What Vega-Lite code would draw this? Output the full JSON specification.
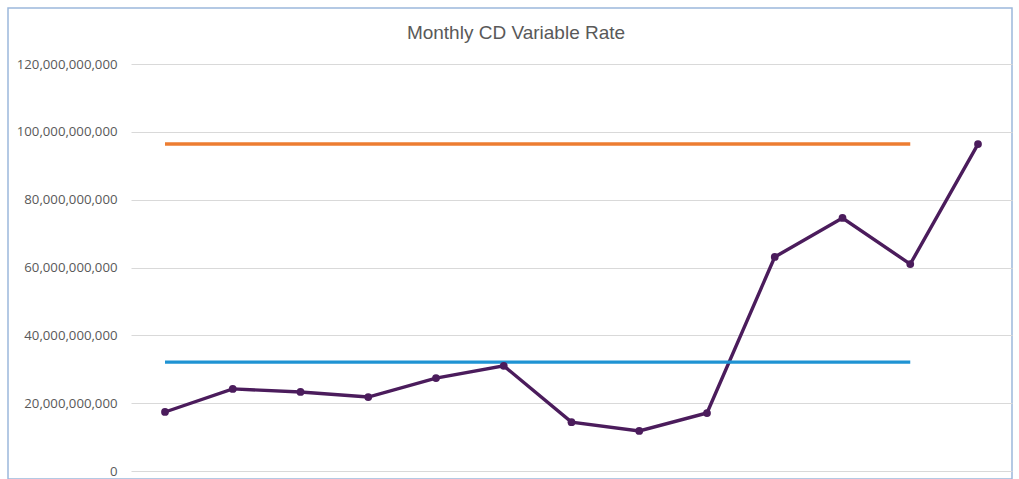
{
  "$schema": "https://vega.github.io/schema/vega-lite/v6.json",
  "width": 1004,
  "height": 471,
  "autosize": "none",
  "padding": {"left": 8, "top": 8, "right": 7, "bottom": 0},
  "background": "white",
  "title": {
    "text": "Monthly CD Variable Rate",
    "anchor": "middle",
    "frame": "group",
    "orient": "top",
    "baseline": "middle",
    "offset": -44,
    "dx": 6,
    "font": "Liberation Sans",
    "fontSize": 19,
    "fontWeight": "normal",
    "color": "#595959"
  },
  "config": {
    "view": {"stroke": "#9cb8dc", "strokeWidth": 1.5},
    "axis": {"labelFont": "Open Sans", "labelColor": "#595959"}
  },
  "data": {
    "values": [
      {"month": 1, "series": "Rate", "value": 17400000000},
      {"month": 2, "series": "Rate", "value": 24200000000},
      {"month": 3, "series": "Rate", "value": 23300000000},
      {"month": 4, "series": "Rate", "value": 21800000000},
      {"month": 5, "series": "Rate", "value": 27400000000},
      {"month": 6, "series": "Rate", "value": 31000000000},
      {"month": 7, "series": "Rate", "value": 14400000000},
      {"month": 8, "series": "Rate", "value": 11800000000},
      {"month": 9, "series": "Rate", "value": 17100000000},
      {"month": 10, "series": "Rate", "value": 63100000000},
      {"month": 11, "series": "Rate", "value": 74600000000},
      {"month": 12, "series": "Rate", "value": 61000000000},
      {"month": 13, "series": "Rate", "value": 96400000000},
      {"month": 1, "series": "Upper", "value": 96400000000},
      {"month": 2, "series": "Upper", "value": 96400000000},
      {"month": 3, "series": "Upper", "value": 96400000000},
      {"month": 4, "series": "Upper", "value": 96400000000},
      {"month": 5, "series": "Upper", "value": 96400000000},
      {"month": 6, "series": "Upper", "value": 96400000000},
      {"month": 7, "series": "Upper", "value": 96400000000},
      {"month": 8, "series": "Upper", "value": 96400000000},
      {"month": 9, "series": "Upper", "value": 96400000000},
      {"month": 10, "series": "Upper", "value": 96400000000},
      {"month": 11, "series": "Upper", "value": 96400000000},
      {"month": 12, "series": "Upper", "value": 96400000000},
      {"month": 1, "series": "Lower", "value": 32100000000},
      {"month": 2, "series": "Lower", "value": 32100000000},
      {"month": 3, "series": "Lower", "value": 32100000000},
      {"month": 4, "series": "Lower", "value": 32100000000},
      {"month": 5, "series": "Lower", "value": 32100000000},
      {"month": 6, "series": "Lower", "value": 32100000000},
      {"month": 7, "series": "Lower", "value": 32100000000},
      {"month": 8, "series": "Lower", "value": 32100000000},
      {"month": 9, "series": "Lower", "value": 32100000000},
      {"month": 10, "series": "Lower", "value": 32100000000},
      {"month": 11, "series": "Lower", "value": 32100000000},
      {"month": 12, "series": "Lower", "value": 32100000000}
    ]
  },
  "encoding": {
    "x": {
      "field": "month",
      "type": "ordinal",
      "scale": {"type": "point", "range": [157, 970], "padding": 0},
      "axis": null
    },
    "y": {
      "field": "value",
      "type": "quantitative",
      "scale": {"domain": [0, 120000000000], "range": [463, 56], "nice": false, "zero": true}
    }
  },
  "layer": [
    {
      "mark": {"type": "line", "strokeWidth": 3.4},
      "encoding": {
        "y": {
          "field": "value",
          "type": "quantitative",
          "axis": {
            "orient": "left",
            "values": [0, 20000000000, 40000000000, 60000000000, 80000000000, 100000000000, 120000000000],
            "format": ",.0f",
            "grid": false,
            "domain": false,
            "ticks": false,
            "labelPadding": -109,
            "labelFontSize": 13.2,
            "title": null
          }
        },
        "color": {
          "field": "series",
          "type": "nominal",
          "scale": {"domain": ["Rate", "Upper", "Lower"], "range": ["#4b1c5c", "#ed7d31", "#1f93d3"]},
          "legend": null
        },
        "order": {"field": "month"}
      }
    },
    {
      "transform": [{"filter": "datum.series === 'Rate'"}],
      "mark": {"type": "point", "filled": true, "opacity": 1, "size": 60, "color": "#4b1c5c"},
      "encoding": {
        "y": {
          "field": "value",
          "type": "quantitative",
          "axis": {
            "orient": "right",
            "values": [0, 20000000000, 40000000000, 60000000000, 80000000000, 100000000000, 120000000000],
            "grid": false,
            "domain": false,
            "labels": false,
            "ticks": true,
            "tickSize": 881,
            "tickColor": "#d9d9d9",
            "tickWidth": 1,
            "offset": -881,
            "title": null,
            "zindex": 0
          }
        }
      }
    }
  ],
  "resolve": {"axis": {"y": "independent"}}
}
